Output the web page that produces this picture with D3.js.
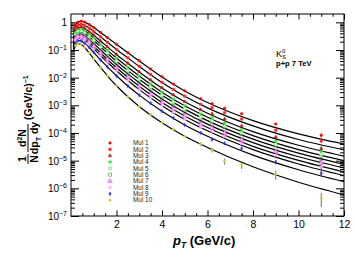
<!DOCTYPE html>
<html>
<head>
<meta charset="utf-8">
<script src="https://cdn.jsdelivr.net/npm/d3@7"></script>
<style>
  body { margin: 0; background: #fff; }
  text { font-family: "Liberation Sans", Arial, Helvetica, sans-serif; }
</style>
</head>
<body>
<div id="chart"></div>
<script>
// fit curves, sampled in pT (GeV/c)
const fitPt = [0.1, 0.2, 0.3, 0.45, 0.6, 0.8, 1, 1.3, 1.6, 2, 2.5, 3, 4, 5, 6, 8, 10, 12];
const fitMul1 = [0.44, 0.78, 1.0, 1.1, 1.02, 0.83, 0.65, 0.43, 0.28, 0.16, 0.079, 0.040, 0.0105, 3.3e-3, 1.26e-3, 2.8e-4, 9.3e-5, 4.0e-5];
const fitMul2 = [0.35, 0.61, 0.78, 0.85, 0.77, 0.62, 0.47, 0.30, 0.19, 0.105, 0.0515, 0.0255, 6.7e-3, 2.12e-3, 8.1e-4, 1.8e-4, 5.8e-5, 2.44e-5];
const fitMul3 = [0.28, 0.50, 0.63, 0.67, 0.60, 0.46, 0.34, 0.21, 0.13, 0.069, 0.033, 0.0161, 4.2e-3, 1.34e-3, 5.2e-4, 1.12e-4, 3.6e-5, 1.46e-5];
const fitMul4 = [0.24, 0.42, 0.53, 0.55, 0.49, 0.37, 0.27, 0.16, 0.097, 0.051, 0.024, 0.0115, 3.0e-3, 9.6e-4, 3.7e-4, 8.0e-5, 2.5e-5, 1.0e-5];
const fitMul5 = [0.21, 0.36, 0.45, 0.47, 0.41, 0.30, 0.22, 0.13, 0.077, 0.039, 0.018, 8.7e-3, 2.3e-3, 7.3e-4, 2.8e-4, 6.0e-5, 1.87e-5, 7.4e-6];
const fitMul6 = [0.17, 0.30, 0.37, 0.38, 0.33, 0.24, 0.17, 0.10, 0.059, 0.030, 0.0137, 6.6e-3, 1.71e-3, 5.5e-4, 2.1e-4, 4.5e-5, 1.39e-5, 5.5e-6];
const fitMul7 = [0.14, 0.25, 0.31, 0.31, 0.27, 0.20, 0.136, 0.078, 0.0455, 0.0228, 0.0103, 4.9e-3, 1.27e-3, 4.1e-4, 1.57e-4, 3.3e-5, 1.02e-5, 3.9e-6];
const fitMul8 = [0.127, 0.22, 0.27, 0.27, 0.23, 0.166, 0.112, 0.063, 0.036, 0.0178, 7.9e-3, 3.7e-3, 9.7e-4, 3.1e-4, 1.2e-4, 2.5e-5, 7.6e-6, 2.9e-6];
const fitMul9 = [0.104, 0.179, 0.217, 0.214, 0.177, 0.124, 0.082, 0.044, 0.0245, 0.0117, 5.0e-3, 2.34e-3, 6.1e-4, 1.95e-4, 7.6e-5, 1.59e-5, 4.7e-6, 1.74e-6];
const fitMul10 = [0.085, 0.145, 0.17, 0.16, 0.123, 0.079, 0.048, 0.0234, 0.0117, 5.1e-3, 2.04e-3, 9.1e-4, 2.34e-4, 7.6e-5, 3.0e-5, 6.0e-6, 1.66e-6, 5.8e-7];

// measured points
const dataPt = [0.2, 0.3, 0.45, 0.6, 0.8, 1, 1.3, 1.6, 2, 2.5, 3, 3.5, 4, 4.5, 5, 5.7, 6.2, 6.75, 7.5, 9, 11];
const dataMul1 = [0.78, 1.0, 1.1, 1.02, 0.83, 0.65, 0.43, 0.28, 0.16, 0.08, 0.041, 0.0205, 0.0107, 5.9e-3, 3.35e-3, 1.72e-3, 1.15e-3, 7.9e-4, 5.0e-4, 2.1e-4, 8.3e-5];
const dataMul2 = [0.61, 0.78, 0.85, 0.77, 0.62, 0.47, 0.30, 0.19, 0.106, 0.052, 0.026, 0.0132, 6.8e-3, 3.8e-3, 2.15e-3, 1.08e-3, 8.3e-4, 5.4e-4, 3.2e-4, 1.26e-4, 5.2e-5];
const dataMul3 = [0.50, 0.63, 0.67, 0.60, 0.46, 0.34, 0.21, 0.13, 0.07, 0.033, 0.0163, 8.3e-3, 4.3e-3, 2.4e-3, 1.36e-3, 6.9e-4, 5.0e-4, 3.2e-4, 1.82e-4, 7.2e-5, 2.75e-5];
const dataMul4 = [0.42, 0.53, 0.55, 0.49, 0.37, 0.27, 0.16, 0.098, 0.051, 0.024, 0.0116, 5.9e-3, 3.0e-3, 1.7e-3, 9.7e-4, 4.9e-4, 3.55e-4, 2.3e-4, 1.32e-4, 5.0e-5, 2.1e-5];
const dataMul5 = [0.36, 0.45, 0.47, 0.41, 0.30, 0.22, 0.128, 0.077, 0.039, 0.018, 8.8e-3, 4.5e-3, 2.3e-3, 1.29e-3, 7.3e-4, 3.7e-4, 2.7e-4, 1.74e-4, 1.0e-4, 3.8e-5, 1.7e-5];
const dataMul6 = [0.30, 0.37, 0.38, 0.33, 0.24, 0.17, 0.10, 0.059, 0.030, 0.0137, 6.6e-3, 3.4e-3, 1.72e-3, 9.8e-4, 5.5e-4, 2.8e-4, 2.04e-4, 1.35e-4, 7.6e-5, 2.8e-5, 1.12e-5];
const dataMul7 = [0.25, 0.31, 0.31, 0.27, 0.20, 0.136, 0.078, 0.0455, 0.0228, 0.0103, 4.9e-3, 2.5e-3, 1.27e-3, 7.2e-4, 4.1e-4, 2.1e-4, 1.51e-4, 1.0e-4, 5.6e-5, 2.1e-5, 8.3e-6];
const dataMul8 = [0.22, 0.27, 0.27, 0.23, 0.166, 0.112, 0.063, 0.036, 0.0178, 7.9e-3, 3.7e-3, 1.9e-3, 9.7e-4, 5.5e-4, 3.1e-4, 1.58e-4, 1.17e-4, 7.6e-5, 4.2e-5, 1.58e-5, 6.0e-6];
const dataMul9 = [0.179, 0.217, 0.214, 0.177, 0.124, 0.082, 0.044, 0.0245, 0.0117, 5.0e-3, 2.34e-3, 1.2e-3, 6.1e-4, 3.5e-4, 1.95e-4, 1.02e-4, 5.8e-5, 4.2e-5, 2.75e-5, 8.9e-6, 3.5e-6];
const dataMul10 = [0.145, 0.17, 0.16, 0.123, 0.079, 0.048, 0.0234, 0.0117, 5.1e-3, 2.04e-3, 9.1e-4, 4.7e-4, 2.34e-4, 1.35e-4, 7.6e-5, 4.0e-5, 2.4e-5, 9.5e-6, 7.2e-6, 3.2e-6, 4.5e-7];

// relative uncertainty per pT bin, and per class scale
const relErr = [0.02, 0.02, 0.02, 0.02, 0.02, 0.02, 0.02, 0.02, 0.02, 0.02, 0.03, 0.03, 0.03, 0.04, 0.04, 0.05, 0.06, 0.08, 0.1, 0.12, 0.18];
const errScale = [1, 1, 1, 1, 1, 1, 1, 1.2, 1.5, 3];

const names = ['Mul 1', 'Mul 2', 'Mul 3', 'Mul 4', 'Mul 5', 'Mul 6', 'Mul 7', 'Mul 8', 'Mul 9', 'Mul 10'];
const xTicks = [2, 4, 6, 8, 10, 12];

const fits = [fitMul1, fitMul2, fitMul3, fitMul4, fitMul5, fitMul6, fitMul7, fitMul8, fitMul9, fitMul10];
const datas = [dataMul1, dataMul2, dataMul3, dataMul4, dataMul5, dataMul6, dataMul7, dataMul8, dataMul9, dataMul10];

// marker styles (ROOT-like)
const markers = [
    { type: d3.symbolCircle, size: 5, fill: '#ff0000', stroke: '#ff0000' },
    { type: d3.symbolSquare, size: 6, fill: '#ff2a2a', stroke: '#ff2a2a' },
    { type: d3.symbolTriangle, size: 5, fill: '#b02020', stroke: '#b02020' },
    { type: d3.symbolTriangle, size: 5, fill: '#22ee22', stroke: '#22ee22', rot: 180 },
    { type: d3.symbolCircle, size: 10, fill: '#c4f7c4', stroke: '#77dd77' },
    { type: d3.symbolSquare, size: 9, fill: 'none', stroke: '#1f7a1f' },
    { type: d3.symbolTriangle, size: 9, fill: '#ffaaff', stroke: '#ee33ee' },
    { type: d3.symbolStar, size: 4, fill: '#ffaaff', stroke: '#ffaaff' },
    { type: d3.symbolDiamond, size: 4, fill: '#2233ff', stroke: '#2233ff' },
    { type: d3.symbolCircle, size: 4.5, fill: '#d4cc3a', stroke: '#d4cc3a' }
];

const width = 355, height = 257;
const plot = { left: 71, right: 344, top: 14, bottom: 216 };

const svg = d3.select('#chart')
    .append('svg')
    .attr('width', width)
    .attr('height', height);

const x = d3.scaleLinear().domain([0, 12]).range([plot.left, plot.right]);
const y = d3.scaleLog().domain([1e-7, 2]).range([plot.bottom, plot.top]);

svg.append('clipPath').attr('id', 'clip')
    .append('rect')
    .attr('x', plot.left).attr('y', plot.top)
    .attr('width', plot.right - plot.left).attr('height', plot.bottom - plot.top);

// ---- axes ----
const minorX = d3.range(0.5, 12, 0.5).filter(v => v % 2 !== 0);
const decades = d3.range(-7, 1).map(k => Math.pow(10, k));
const minorY = [];
for (let k = -7; k < 0; k++) for (let m = 2; m <= 9; m++) minorY.push(m * Math.pow(10, k));

function styleAxis(g) {
    g.select('.domain').remove();
    g.selectAll('line').attr('stroke', '#000').attr('stroke-width', 1);
    g.attr('font-family', null).attr('font-size', null);
}

svg.append('g')
    .attr('transform', `translate(0,${plot.bottom})`)
    .call(d3.axisBottom(x).tickValues(xTicks).tickSize(-5.5).tickPadding(5).tickFormat(d3.format('d')))
    .call(styleAxis)
    .selectAll('text').attr('font-size', 10.5).attr('fill', '#000');
svg.append('g')
    .attr('transform', `translate(0,${plot.bottom})`)
    .call(d3.axisBottom(x).tickValues(minorX).tickSize(-2.8).tickFormat(''))
    .call(styleAxis);
svg.append('g')
    .attr('transform', `translate(0,${plot.top})`)
    .call(d3.axisTop(x).tickValues(xTicks).tickSize(-5.5).tickFormat(''))
    .call(styleAxis);
svg.append('g')
    .attr('transform', `translate(0,${plot.top})`)
    .call(d3.axisTop(x).tickValues(minorX).tickSize(-2.8).tickFormat(''))
    .call(styleAxis);

const yAxisG = svg.append('g')
    .attr('transform', `translate(${plot.left},0)`)
    .call(d3.axisLeft(y).tickValues(decades).tickSize(-8).tickPadding(4).tickFormat(''))
    .call(styleAxis);
yAxisG.selectAll('.tick text').each(function (d) {
    const t = d3.select(this).attr('font-size', 10).attr('fill', '#000').attr('dy', '0.35em');
    const e = Math.round(Math.log10(d));
    if (e === 0) {
        t.text('1');
    } else {
        t.append('tspan').text('10');
        t.append('tspan').attr('font-size', 7).attr('dy', '-0.55em').text('\u2212' + (-e));
    }
});
svg.append('g')
    .attr('transform', `translate(${plot.left},0)`)
    .call(d3.axisLeft(y).tickValues(minorY).tickSize(-4).tickFormat(''))
    .call(styleAxis);
svg.append('g')
    .attr('transform', `translate(${plot.right},0)`)
    .call(d3.axisRight(y).tickValues(decades).tickSize(-8).tickFormat(''))
    .call(styleAxis);
svg.append('g')
    .attr('transform', `translate(${plot.right},0)`)
    .call(d3.axisRight(y).tickValues(minorY).tickSize(-4).tickFormat(''))
    .call(styleAxis);

// frame
svg.append('rect')
    .attr('x', plot.left).attr('y', plot.top)
    .attr('width', plot.right - plot.left).attr('height', plot.bottom - plot.top)
    .attr('fill', 'none').attr('stroke', '#000').attr('stroke-width', 1);

// ---- fit curves ----
const line = d3.line()
    .x((d, i) => x(fitPt[i]))
    .y(d => y(d))
    .curve(d3.curveMonotoneX);
const curves = svg.append('g').attr('clip-path', 'url(#clip)');
fits.forEach(f => {
    curves.append('path')
        .attr('d', line(f))
        .attr('fill', 'none')
        .attr('stroke', '#000')
        .attr('stroke-width', 1.2);
});

// ---- data points ----
const pts = svg.append('g').attr('clip-path', 'url(#clip)');
datas.forEach((vals, s) => {
    const m = markers[s];
    const g = pts.append('g');
    vals.forEach((v, i) => {
        const e = relErr[i] * errScale[s];
        const y1 = y(v * (1 + e)), y2 = y(Math.max(v * (1 - e), 1e-9));
        if (y2 - y1 > 3) {
            g.append('line')
                .attr('x1', x(dataPt[i])).attr('x2', x(dataPt[i]))
                .attr('y1', y1).attr('y2', y2)
                .attr('stroke', '#333').attr('stroke-width', 0.7);
        }
    });
    g.selectAll('path')
        .data(vals)
        .enter()
        .append('path')
        .attr('d', d3.symbol().type(m.type).size(m.size))
        .attr('transform', (d, i) => `translate(${x(dataPt[i])},${y(d)})` + (m.rot ? ` rotate(${m.rot})` : ''))
        .attr('fill', m.fill)
        .attr('stroke', m.stroke)
        .attr('stroke-width', 0.5);
});

// ---- legend ----
const legend = svg.append('g');
names.forEach((n, s) => {
    const m = markers[s];
    const ly = 143 + s * 6.35;
    legend.append('path')
        .attr('d', d3.symbol().type(m.type).size(m.size))
        .attr('transform', `translate(110,${ly})` + (m.rot ? ` rotate(${m.rot})` : ''))
        .attr('fill', m.fill).attr('stroke', m.stroke).attr('stroke-width', 0.5);
    legend.append('text')
        .attr('x', 133).attr('y', ly + 2.2)
        .attr('font-size', 6.4)
        .attr('fill', '#222')
        .text(n);
});

// ---- annotation ----
const kText = svg.append('text').attr('x', 276).attr('y', 57).attr('font-size', 9);
kText.append('tspan').text('K');
kText.append('tspan').attr('font-size', 6).attr('dy', -4).text('0');
kText.append('tspan').attr('font-size', 6).attr('dx', -3.4).attr('dy', 6).text('S');
svg.append('text')
    .attr('x', 276).attr('y', 65.5)
    .attr('font-size', 7.6).attr('font-weight', 'bold')
    .text('p+p 7 TeV');

// ---- axis titles ----
const xt = svg.append('text')
    .attr('x', 173).attr('y', 245)
    .attr('font-size', 13).attr('font-weight', 'bold');
xt.append('tspan').attr('font-style', 'italic').text('p');
xt.append('tspan').attr('font-style', 'italic').attr('font-size', 8.5).attr('dy', 3).text('T');
xt.append('tspan').attr('dy', -3).text(' (GeV/c)');

// y title: 1/N d2N/(dpT dy) (GeV/c)^-1, rotated
const yt = svg.append('g')
    .attr('transform', 'translate(28,122) rotate(-90)')
    .attr('font-weight', 'bold').attr('font-size', 10.5);
yt.append('text').attr('x', -37).attr('y', -2).attr('text-anchor', 'middle').text('1');
yt.append('line').attr('x1', -42).attr('x2', -32).attr('y1', 0).attr('y2', 0).attr('stroke', '#000').attr('stroke-width', 1);
yt.append('text').attr('x', -37).attr('y', 10).attr('text-anchor', 'middle').text('N');
const num = yt.append('text').attr('x', -16).attr('y', -2).attr('text-anchor', 'middle');
num.append('tspan').text('d');
num.append('tspan').attr('font-size', 7).attr('dy', -4).text('2');
num.append('tspan').attr('dy', 4).text('N');
yt.append('line').attr('x1', -30).attr('x2', -2).attr('y1', 0).attr('y2', 0).attr('stroke', '#000').attr('stroke-width', 1);
const den = yt.append('text').attr('x', -16).attr('y', 10).attr('text-anchor', 'middle');
den.append('tspan').text('dp');
den.append('tspan').attr('font-size', 7).attr('dy', 2.5).text('T');
den.append('tspan').attr('dy', -2.5).text(' dy');
const gev = yt.append('text').attr('x', 2).attr('y', 4);
gev.append('tspan').text('(GeV/c)');
gev.append('tspan').attr('font-size', 7).attr('dy', -4.5).text('\u22121');
</script>
</body>
</html>
